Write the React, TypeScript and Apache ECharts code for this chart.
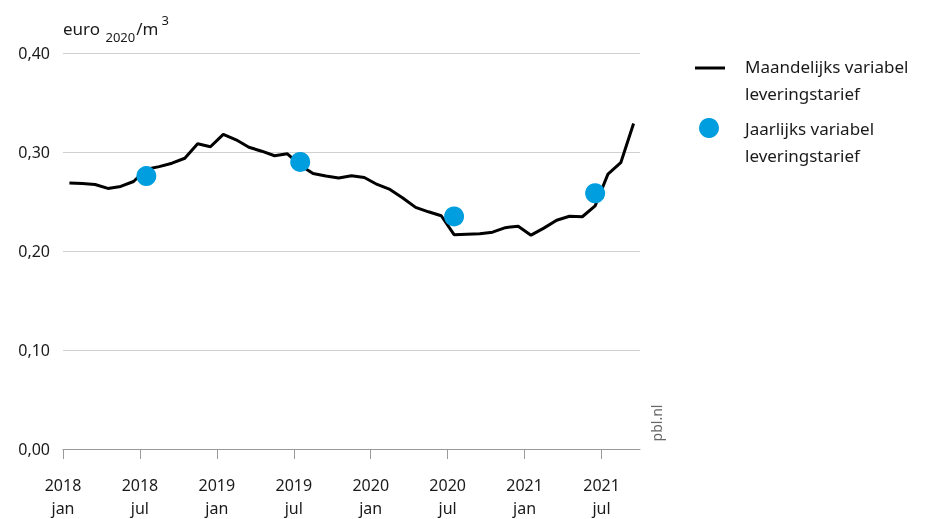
import React, { useEffect, useRef } from "react";
import * as echarts from "echarts";

// Monthly variable delivery tariff, Jan 2018 .. Sep 2021 (euro2020/m3)
const monthlyValues = [
  0.2687, 0.2682, 0.2672, 0.2632, 0.2652, 0.2702, 0.2825, 0.2852, 0.2887, 0.2937,
  0.3083, 0.3053, 0.3178, 0.3123, 0.3048, 0.3008, 0.2962, 0.2982, 0.2867, 0.2782,
  0.2757, 0.2737, 0.2760, 0.2742, 0.2672, 0.2622, 0.2536, 0.2441, 0.2396, 0.2356,
  0.2165, 0.2170, 0.2175, 0.2190, 0.2236, 0.2251, 0.2160, 0.2231, 0.2311, 0.2351,
  0.2346, 0.2456, 0.2777, 0.2892, 0.3288,
];

// Yearly variable delivery tariff (month index from Jan 2018)
const yearlyMonthIndex = [6, 18, 30, 41];
const yearlyValues = [0.2757, 0.29, 0.2349, 0.2583];

const xTickMonths = [0, 6, 12, 18, 24, 30, 36, 42];
const startYear = 2018;
const monthNames = ["jan", "jul"];

const seriesNames = ["Maandelijks variabel leveringstarief", "Jaarlijks variabel leveringstarief"];

const FONT = "Noto Sans";
const BLUE = "#009ddf";

export default function App() {
  const ref = useRef<HTMLDivElement>(null);

  useEffect(() => {
    if (!ref.current) return;
    const chart = echarts.init(ref.current, null, { renderer: "svg" });

    const option = {
      animation: false,
      textStyle: { fontFamily: FONT },
      grid: { left: 63, right: 285, top: 53, bottom: 67 },
      xAxis: {
        type: "value",
        min: 0,
        max: monthlyValues.length,
        interval: 6,
        splitLine: { show: false },
        axisLine: { show: true, lineStyle: { color: "#9a9a9a", width: 1 } },
        axisTick: {
          show: true,
          length: 10,
          customValues: xTickMonths,
          lineStyle: { color: "#9a9a9a" },
        },
        axisLabel: {
          customValues: xTickMonths,
          margin: 24,
          fontSize: 16,
          lineHeight: 23,
          color: "#1a1a1a",
          fontFamily: FONT,
          formatter: (v: number) => {
            const y = startYear + Math.floor(v / 12);
            const m = monthNames[Math.round((v % 12) / 6)] ?? "";
            return y + "\n" + m;
          },
        },
      },
      yAxis: {
        type: "value",
        min: 0,
        max: 0.4,
        interval: 0.1,
        axisLine: { show: false },
        axisTick: { show: false },
        splitLine: { lineStyle: { color: "#d0d0d0", width: 1 } },
        axisLabel: {
          margin: 13,
          fontSize: 16,
          color: "#1a1a1a",
          fontFamily: FONT,
          formatter: (v: number) => v.toFixed(2).replace(".", ","),
        },
      },
      series: [
        {
          name: seriesNames[0],
          type: "line",
          symbol: "none",
          lineStyle: { color: "#000", width: 3 },
          data: monthlyValues.map((v, i) => [i + 0.5, v]),
          z: 2,
        },
        {
          name: seriesNames[1],
          type: "scatter",
          symbol: "circle",
          symbolSize: 20,
          itemStyle: { color: BLUE, opacity: 1 },
          data: yearlyMonthIndex.map((m, i) => [m + 0.5, yearlyValues[i]]),
          z: 3,
        },
      ],
      graphic: [
        {
          type: "text",
          left: 63,
          top: 13,
          style: {
            text: "{a|euro }{b|2020}{a|/m}{c|3}",
            rich: {
              a: { fontSize: 17, fontFamily: FONT, fill: "#1a1a1a", verticalAlign: "middle", lineHeight: 30 },
              b: { fontSize: 13, fontFamily: FONT, fill: "#1a1a1a", verticalAlign: "bottom", lineHeight: 30, padding: [0, 1, 0, 1] },
              c: { fontSize: 13, fontFamily: FONT, fill: "#1a1a1a", verticalAlign: "top", lineHeight: 30, padding: [0, 0, 0, 3] },
            },
          },
        },
        {
          type: "line",
          shape: { x1: 695, y1: 68, x2: 725, y2: 68 },
          style: { stroke: "#000", lineWidth: 3 },
        },
        {
          type: "text",
          x: 745,
          y: 52.5,
          style: {
            text: "Maandelijks variabel\nleveringstarief",
            fontSize: 17,
            lineHeight: 27,
            fontFamily: FONT,
            fill: "#1a1a1a",
            verticalAlign: "top",
          },
        },
        {
          type: "circle",
          shape: { cx: 709, cy: 128, r: 10 },
          style: { fill: BLUE },
        },
        {
          type: "text",
          x: 745,
          y: 114.5,
          style: {
            text: "Jaarlijks variabel\nleveringstarief",
            fontSize: 17,
            lineHeight: 27,
            fontFamily: FONT,
            fill: "#1a1a1a",
            verticalAlign: "top",
          },
        },
        {
          type: "text",
          x: 656,
          y: 423,
          rotation: Math.PI / 2,
          style: {
            text: "pbl.nl",
            fontSize: 14,
            fontFamily: FONT,
            fill: "#666",
            align: "center",
            verticalAlign: "middle",
          },
        },
      ],
    };

    chart.setOption(option as any);
    return () => chart.dispose();
  }, []);

  return (
    <div
      ref={ref}
      style={{ position: "fixed", left: 0, top: 0, width: 925, height: 519 }}
    />
  );
}
